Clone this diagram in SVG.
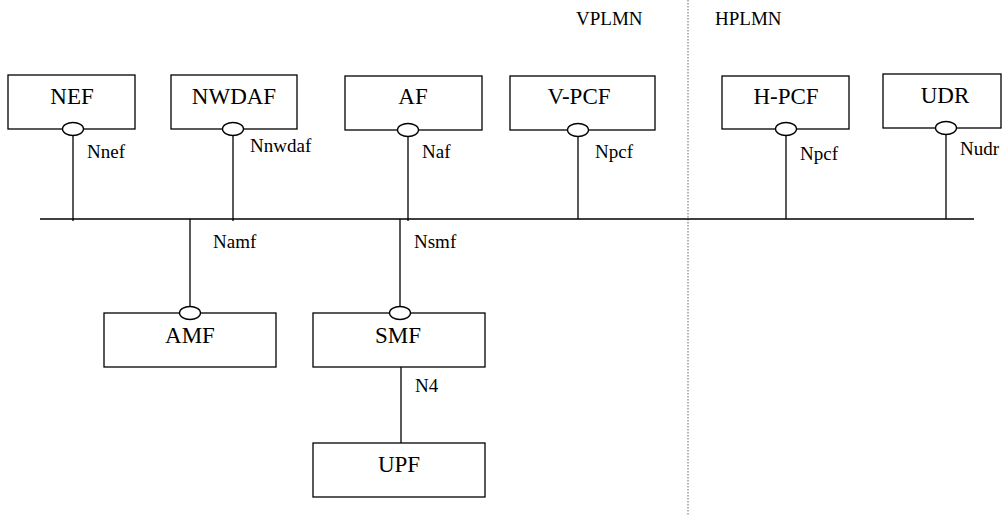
<svg xmlns="http://www.w3.org/2000/svg" width="1002" height="515" viewBox="0 0 1002 515">
<style>
.box{fill:#fff;stroke:#000;stroke-width:1.3}
.port{fill:#fff;stroke:#000;stroke-width:1.3}
.ln{stroke:#000;stroke-width:1.3;fill:none}
text{font-family:'Liberation Serif','Times New Roman',Times,'DejaVu Serif',serif;fill:#000}
.nt{font-size:23px;text-anchor:middle}
.lb{font-size:19px}
.dom{font-size:19px}
</style>
<rect width="1002" height="515" fill="#fff"/>
<g id="domains">
<line x1="688" y1="0" x2="688" y2="515" stroke="#666" stroke-width="1" stroke-dasharray="1.5,1.5"/>
<text class="dom" x="576" y="25">VPLMN</text>
<text class="dom" x="715" y="25">HPLMN</text>
</g>
<g id="connectors">
<line class="ln" x1="40" y1="219" x2="974" y2="219"/>
<line class="ln" x1="73" y1="135" x2="73" y2="221"/>
<line class="ln" x1="233" y1="135" x2="233" y2="221"/>
<line class="ln" x1="408" y1="136" x2="408" y2="221"/>
<line class="ln" x1="578" y1="136" x2="578" y2="219"/>
<line class="ln" x1="786" y1="135" x2="786" y2="219"/>
<line class="ln" x1="946" y1="134" x2="946" y2="219"/>
<line class="ln" x1="190" y1="219" x2="190" y2="307"/>
<line class="ln" x1="400" y1="219" x2="400" y2="307"/>
<line class="ln" x1="401" y1="367" x2="401" y2="446"/>
<text class="lb" x="87" y="158">Nnef</text>
<text class="lb" x="250" y="152">Nnwdaf</text>
<text class="lb" x="422" y="158">Naf</text>
<text class="lb" x="595" y="158">Npcf</text>
<text class="lb" x="800" y="160">Npcf</text>
<text class="lb" x="960" y="155">Nudr</text>
<text class="lb" x="213" y="248">Namf</text>
<text class="lb" x="414" y="248">Nsmf</text>
<text class="lb" x="415" y="392">N4</text>
</g>
<g id="NEF"><rect class="box" x="8" y="75" width="127" height="54"/><text class="nt" x="72" y="104">NEF</text><ellipse class="port" cx="73" cy="129" rx="10.5" ry="6.5"/></g>
<g id="NWDAF"><rect class="box" x="171" y="75" width="126" height="54"/><text class="nt" x="234" y="104">NWDAF</text><ellipse class="port" cx="233" cy="129" rx="10.5" ry="6.5"/></g>
<g id="AF"><rect class="box" x="345" y="76" width="137" height="54"/><text class="nt" x="413" y="104">AF</text><ellipse class="port" cx="408" cy="130" rx="10.5" ry="6.5"/></g>
<g id="V-PCF"><rect class="box" x="510" y="76" width="145" height="54"/><text class="nt" x="579" y="104">V-PCF</text><ellipse class="port" cx="578" cy="130" rx="10.5" ry="6.5"/></g>
<g id="H-PCF"><rect class="box" x="722" y="76" width="127" height="53"/><text class="nt" x="786" y="104">H-PCF</text><ellipse class="port" cx="786" cy="129" rx="10.5" ry="6.5"/></g>
<g id="UDR"><rect class="box" x="883" y="74" width="118" height="54"/><text class="nt" x="945" y="103">UDR</text><ellipse class="port" cx="946" cy="128" rx="10.5" ry="6.5"/></g>
<g id="AMF"><rect class="box" x="104" y="313" width="172" height="54"/><text class="nt" x="190" y="343">AMF</text><ellipse class="port" cx="190" cy="313" rx="10.5" ry="6.5"/></g>
<g id="SMF"><rect class="box" x="313" y="313" width="172" height="54"/><text class="nt" x="398" y="343">SMF</text><ellipse class="port" cx="400" cy="313" rx="10.5" ry="6.5"/></g>
<g id="UPF"><rect class="box" x="313" y="443" width="172" height="54"/><text class="nt" x="399" y="472">UPF</text></g>
</svg>
